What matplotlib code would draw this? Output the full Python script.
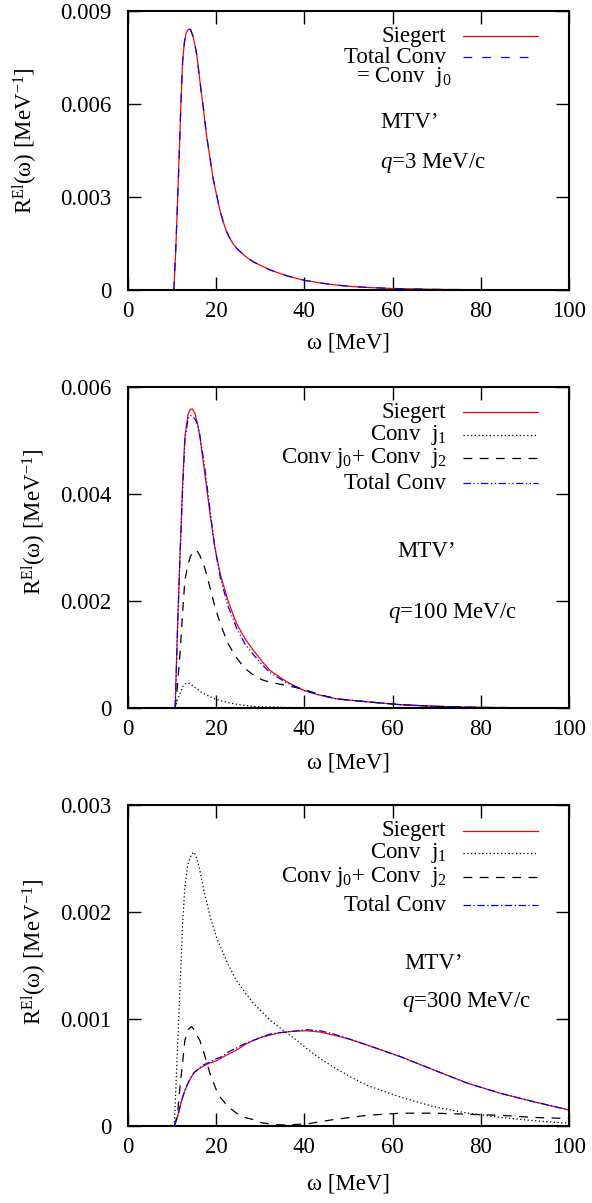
import matplotlib
matplotlib.use("Agg")
from matplotlib import pyplot as plt

plt.rcParams["font.family"] = ["Liberation Serif", "DejaVu Serif"]
plt.rcParams["mathtext.fontset"] = "custom"
plt.rcParams["mathtext.rm"] = "Liberation Serif"
plt.rcParams["mathtext.it"] = "Liberation Serif:italic"
plt.rcParams["mathtext.bf"] = "Liberation Serif:bold"

# q = 3 MeV/c
w_q3 = [10.4, 10.8, 11.2, 11.6, 12.0, 12.4, 12.8, 13.2, 13.6, 13.9, 14.2, 14.7,
        15.2, 15.6, 16.1, 16.6, 17.1, 17.8, 18.6, 19.3, 20.1, 20.8, 21.6, 22.3,
        23.0, 23.8, 24.6, 26.5, 28.4, 32.2, 36.0, 39.8, 43.5, 47.3, 51.0, 54.9,
        60.0, 70.0, 80.0, 90.0, 100.0]
siegert_q3 = [0.0, 0.0012, 0.0027, 0.0043, 0.0060, 0.0074, 0.0080, 0.0083,
              0.00840, 0.00842, 0.0084, 0.0082, 0.0079, 0.00758, 0.0070, 0.0064,
              0.00586, 0.0050, 0.00425, 0.0036, 0.00306, 0.0026, 0.0022, 0.0019,
              0.0017, 0.0015, 0.00135, 0.0011, 0.00091, 0.00065, 0.00046,
              0.00032, 0.00023, 0.00016, 0.00011, 0.00008, 0.00005, 0.00002,
              0.00001, 0.000005, 0.0]
total_q3 = [0.0, 0.0012, 0.0027, 0.0043, 0.0060, 0.0074, 0.0080, 0.0083,
            0.00839, 0.00841, 0.0084, 0.0082, 0.0079, 0.00758, 0.0070, 0.0064,
            0.00588, 0.0050, 0.00428, 0.0036, 0.00308, 0.0026, 0.0022, 0.0019,
            0.0017, 0.0015, 0.00135, 0.0011, 0.00091, 0.00065, 0.00046,
            0.00032, 0.00023, 0.00016, 0.00011, 0.00008, 0.00005, 0.00002,
            0.00001, 0.000005, 0.0]

# q = 100 MeV/c
w_q100 = [10.7, 11.2, 11.8, 12.4, 12.9, 13.6, 14.1, 14.6, 15.2, 15.8, 16.3, 17.4,
          18.6, 19.7, 20.9, 22.7, 24.6, 26.5, 28.4, 30.3, 32.2, 36.0, 39.8, 43.5,
          47.3, 54.9, 62.0, 70.0, 80.0, 90.0, 100.0]
siegert_q100 = [0.0, 0.0014, 0.00288, 0.0042, 0.00507, 0.00548, 0.00558, 0.00559,
                0.0055, 0.0053, 0.00507, 0.0044, 0.00363, 0.0030, 0.00251, 0.0020,
                0.00158, 0.0013, 0.00108, 0.00088, 0.0007, 0.00049, 0.00033,
                0.00024, 0.00017, 0.00011, 0.00006, 0.00003, 0.00001, 0.000005, 0.0]
j1_q100 = [0.0, 0.00015, 0.00027, 0.0004, 0.00045, 0.00047, 0.00045, 0.00042,
           0.00038, 0.00035, 0.00031, 0.00026, 0.00021, 0.00017, 0.00014, 0.0001,
           0.00007, 0.00005, 0.00003, 0.00002, 0.00002, 0.00001, 0.000005, 0.0,
           0.0, 0.0, 0.0, 0.0, 0.0, 0.0, 0.0]
j0j2_q100 = [0.0, 0.0004, 0.00102, 0.0018, 0.00239, 0.00268, 0.00282, 0.0029,
             0.00295, 0.00292, 0.00285, 0.00262, 0.00225, 0.0019, 0.00158, 0.0012,
             0.00094, 0.00074, 0.00062, 0.00053, 0.00048, 0.00042, 0.00035,
             0.00025, 0.00017, 0.00011, 0.00006, 0.00003, 0.00001, 0.000005, 0.0]
total_q100 = [0.0, 0.0014, 0.00285, 0.0041, 0.0050, 0.0054, 0.00547, 0.00545,
              0.0054, 0.0053, 0.0051, 0.0045, 0.0037, 0.0030, 0.00245, 0.0019,
              0.0015, 0.0012, 0.001, 0.00082, 0.00066, 0.00047, 0.00033, 0.00024,
              0.00017, 0.00011, 0.00006, 0.00003, 0.00001, 0.000005, 0.0]

# q = 300 MeV/c
w_q300 = [10.5, 11.2, 11.8, 12.4, 12.9, 13.6, 14.4, 15.0, 15.6, 16.3, 17.1, 18.6,
          20.1, 20.9, 22.7, 24.6, 26.5, 28.4, 30.3, 32.2, 34.1, 36.0, 38.3, 40.6,
          43.6, 46.6, 50.4, 54.2, 61.8, 69.4, 77.0, 84.5, 92.0, 100.0]
siegert_q300 = [0.0, 0.00008, 0.00018, 0.00027, 0.00033, 0.0004, 0.00046, 0.0005,
                0.00052, 0.00054, 0.00056, 0.00059, 0.00061, 0.00063, 0.00067,
                0.00071, 0.00076, 0.0008, 0.00083, 0.00085, 0.00087, 0.00088,
                0.000887, 0.00089, 0.000878, 0.00085, 0.00081, 0.000757,
                0.000648, 0.000523, 0.0004, 0.000305, 0.000227, 0.00015]
j1_q300 = [0.0, 0.0007, 0.0013, 0.0019, 0.00224, 0.00245, 0.00254, 0.00256,
           0.0025, 0.00239, 0.00222, 0.00196, 0.00176, 0.00168, 0.00151, 0.00136,
           0.00125, 0.00115, 0.00107, 0.00099, 0.00093, 0.00087, 0.0008, 0.00072,
           0.00063, 0.00055, 0.00046, 0.00038, 0.00027, 0.00018, 0.00012,
           0.00008, 0.00005, 0.000025]
j0j2_q300 = [0.0, 0.0001, 0.00037, 0.0006, 0.0008, 0.0009, 0.00093, 0.0009,
             0.00085, 0.0008, 0.0007, 0.00049, 0.00033, 0.00027, 0.00018, 0.00012,
             0.00008, 0.00006, 0.00003, 0.00002, 0.000012, 0.00001, 0.000015,
             0.00002, 0.00004, 0.00006, 0.00008, 0.0001, 0.00012, 0.00012,
             0.00011, 0.0001, 0.00008, 0.00007]
total_q300 = [0.0, 0.00008, 0.00018, 0.00027, 0.00033, 0.0004, 0.00046, 0.0005,
              0.00052, 0.00055, 0.00057, 0.0006, 0.00063, 0.00064, 0.00069,
              0.00073, 0.00077, 0.0008, 0.00083, 0.00086, 0.00087, 0.00088,
              0.00089, 0.0009, 0.00089, 0.00086, 0.00081, 0.000757, 0.000648,
              0.000523, 0.0004, 0.000305, 0.000227, 0.00015]

x_ticks = [0, 20, 40, 60, 80, 100]

RED = "#ff0000"
BLUE = "#0000ff"
LW = 0.9
FS = 16.5

fig = plt.figure(figsize=(5.92, 12.03), dpi=100)


def make_axes(rect, ymax, yticks, ylabels):
    ax = fig.add_axes(rect)
    ax.set_xlim(0, 100)
    ax.set_ylim(0, ymax)
    ax.set_xticks(x_ticks)
    ax.set_yticks(yticks)
    ax.set_yticklabels(ylabels)
    ax.tick_params(direction="in", length=9.5, width=1.0, top=True, right=True,
                   labelsize=FS)
    ax.tick_params(axis="x", pad=8)
    ax.tick_params(axis="y", pad=12)
    for s in ax.spines.values():
        s.set_linewidth(1.5)
    return ax


def key(ax, y, label, **style):
    # gnuplot style key: right aligned text, sample line on the right
    ax.text(0.722, y, label, transform=ax.transAxes, ha="right", va="center",
            fontsize=FS)
    if style:
        ax.plot([0.76, 0.93], [y, y], transform=ax.transAxes, **style)


def labels(ax, ylab_x, ylab_y, xlab_y):
    ax.text(ylab_x, ylab_y, r"R$^{\mathrm{El}}$(ω) [MeV$^{-1}$]",
            transform=ax.transAxes, rotation=90, ha="center", va="center",
            fontsize=FS)
    ax.text(0.5, xlab_y, "ω [MeV]", transform=ax.transAxes, ha="center",
            va="center", fontsize=FS)


siegert_style = dict(color=RED, lw=LW, ls="-")
j1_style = dict(color="black", lw=LW, ls=(0, (1, 2)))
j0j2_style = dict(color="black", lw=LW, ls=(0, (7, 6)))

# q = 3 MeV/c
ax1 = make_axes([0.2162, 0.7589, 0.7449, 0.2319], 0.009,
                [0, 0.003, 0.006, 0.009], ["0", "0.003", "0.006", "0.009"])
ax1.plot(w_q3, siegert_q3, **siegert_style)
ax1.plot(w_q3, total_q3, color=BLUE, lw=LW, ls=(0, (7, 8)))
key(ax1, 0.910, "Siegert", **siegert_style)
key(ax1, 0.835, "Total Conv", color=BLUE, lw=LW, ls=(0, (7, 8)))
ax1.text(0.734, 0.763, r"= Conv  $\mathrm{j}_0$", transform=ax1.transAxes,
         ha="right", va="center", fontsize=FS)
ax1.text(0.639, 0.599, "MTV’", transform=ax1.transAxes, ha="center",
         va="center", fontsize=FS)
ax1.text(0.692, 0.455, r"$q$=3 MeV/c", transform=ax1.transAxes, ha="center",
         va="center", fontsize=FS)
labels(ax1, -0.234, 0.534, -0.19)

# q = 100 MeV/c
total100_style = dict(color=BLUE, lw=LW, ls=(0, (6, 2, 1, 2, 1, 2)))
ax2 = make_axes([0.2162, 0.4115, 0.7449, 0.2668], 0.006,
                [0, 0.002, 0.004, 0.006], ["0", "0.002", "0.004", "0.006"])
ax2.plot(w_q100, siegert_q100, **siegert_style)
ax2.plot(w_q100, j1_q100, **j1_style)
ax2.plot(w_q100, j0j2_q100, **j0j2_style)
ax2.plot(w_q100, total_q100, **total100_style)
key(ax2, 0.921, "Siegert", **siegert_style)
key(ax2, 0.850, r"Conv  $\mathrm{j}_1$", **j1_style)
key(ax2, 0.778, r"Conv $\mathrm{j}_0$+ Conv  $\mathrm{j}_2$", **j0j2_style)
key(ax2, 0.700, "Total Conv", **total100_style)
ax2.text(0.677, 0.487, "MTV’", transform=ax2.transAxes, ha="center",
         va="center", fontsize=FS)
ax2.text(0.737, 0.295, r"$q$=100 MeV/c", transform=ax2.transAxes, ha="center",
         va="center", fontsize=FS)
labels(ax2, -0.213, 0.579, -0.17)

# q = 300 MeV/c
total300_style = dict(color=BLUE, lw=LW, ls=(0, (6, 2, 1, 2)))
ax3 = make_axes([0.2162, 0.0640, 0.7449, 0.2668], 0.003,
                [0, 0.001, 0.002, 0.003], ["0", "0.001", "0.002", "0.003"])
ax3.plot(w_q300, siegert_q300, **siegert_style)
ax3.plot(w_q300, j1_q300, **j1_style)
ax3.plot(w_q300, j0j2_q300, **j0j2_style)
ax3.plot(w_q300, total_q300, **total300_style)
key(ax3, 0.920, "Siegert", **siegert_style)
key(ax3, 0.850, r"Conv  $\mathrm{j}_1$", **j1_style)
key(ax3, 0.777, r"Conv $\mathrm{j}_0$+ Conv  $\mathrm{j}_2$", **j0j2_style)
key(ax3, 0.688, "Total Conv", **total300_style)
ax3.text(0.692, 0.507, "MTV’", transform=ax3.transAxes, ha="center",
         va="center", fontsize=FS)
ax3.text(0.768, 0.387, r"$q$=300 MeV/c", transform=ax3.transAxes, ha="center",
         va="center", fontsize=FS)
labels(ax3, -0.213, 0.542, -0.181)

fig.savefig("out.png", dpi=100)
